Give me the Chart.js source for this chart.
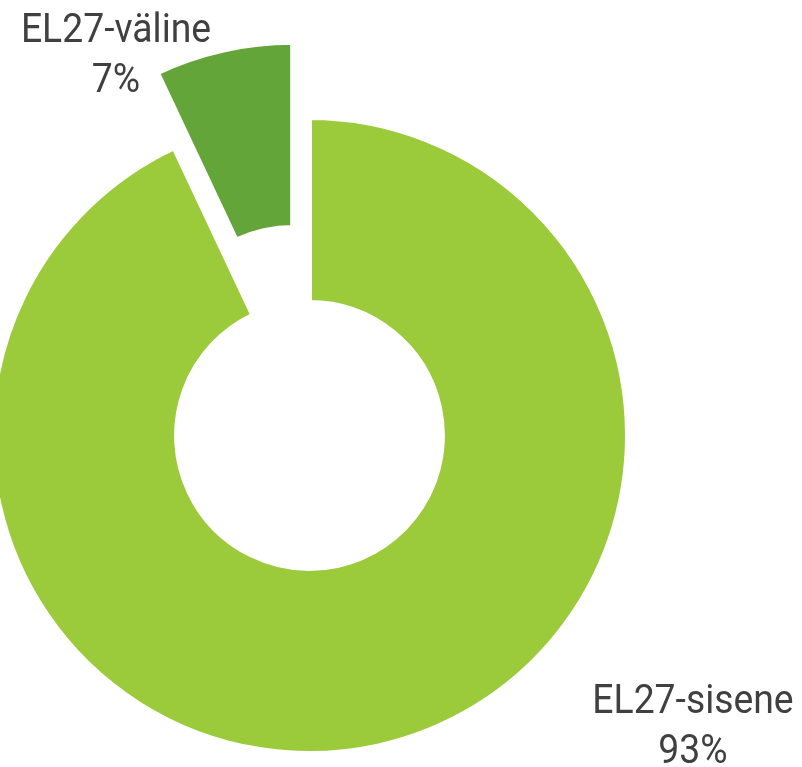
<!DOCTYPE html>
<html>
<head>
<meta charset="utf-8">
<script src="https://cdn.jsdelivr.net/npm/chart.js@4/dist/chart.umd.min.js"></script>
<style>
    html, body { margin: 0; padding: 0; background: #fff; }
    #wrap { width: 802px; height: 767px; position: relative; }
</style>
</head>
<body>
<div id="wrap"><canvas id="pieChart"></canvas></div>
<script>
// データ
const categories = ["EL27-sisene", "EL27-väline"];
const shares = [93, 7];
const sliceColors = ["#9bca3a", "#63a538"];

// 切り出し (väline のみ)
const explodeBy = [0, 77];

// ラベル位置
const labelSpots = [
    { x: 693, y: 713 },
    { x: 116, y: 42 },
];

// 扇形を中心角の方向へずらす
const explodePlugin = {
    id: "explode",
    afterDatasetsUpdate(chart) {
        const meta = chart.getDatasetMeta(0);
        meta.data.forEach((arc, i) => {
            const d = explodeBy[i] || 0;
            if (!d) return;
            const mid = (arc.startAngle + arc.endAngle) / 2;
            arc.x += Math.cos(mid) * d;
            arc.y += Math.sin(mid) * d;
        });
    },
};

// データラベル
const labelPlugin = {
    id: "sliceLabels",
    afterDraw(chart) {
        const ctx = chart.ctx;
        const total = shares.reduce((a, b) => a + b, 0);
        ctx.save();
        ctx.fillStyle = "#404040";
        ctx.font = "41px Roboto";
        ctx.textAlign = "center";
        ctx.textBaseline = "alphabetic";
        categories.forEach((name, i) => {
            const p = labelSpots[i];
            const pct = Math.round((shares[i] / total) * 100) + "%";
            [name, pct].forEach((line, k) => {
                ctx.save();
                ctx.translate(p.x, p.y + k * 50);
                ctx.scale(0.91, 1);
                ctx.fillText(line, 0, 0);
                ctx.restore();
            });
        });
        ctx.restore();
    },
};

const ctx = document.getElementById("pieChart").getContext("2d");
new Chart(ctx, {
    type: "doughnut",
    data: {
        labels: categories,
        datasets: [
            {
                data: shares,
                backgroundColor: sliceColors,
                borderColor: "#ffffff",
                borderWidth: 5,
                clip: false,
            },
        ],
    },
    options: {
        responsive: true,
        maintainAspectRatio: false,
        animation: false,
        events: [],
        radius: 318,
        cutout: "41.8%",
        layout: { padding: { left: 0, right: 183, top: 104, bottom: 0 } },
        plugins: {
            legend: { display: false },
            tooltip: { enabled: false },
        },
    },
    plugins: [explodePlugin, labelPlugin],
});
</script>
</body>
</html>
